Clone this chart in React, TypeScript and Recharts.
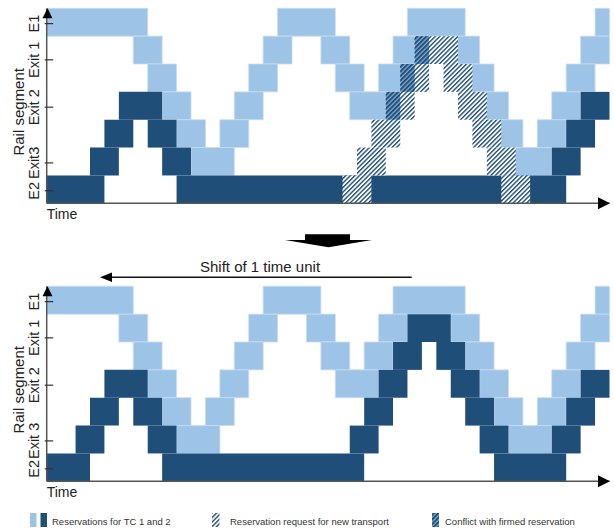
import React from 'react';
import { ComposedChart, XAxis, YAxis, ReferenceArea, ReferenceDot, Label } from 'recharts';

// grid: time units along x, rail segments (rows, 0 = top) along y
const TIME_UNITS = 39;
const ROWS = 7;

// [row, fromTime, toTime]
type Block = [number, number, number];

const rowTicks = [0.55, 1.85, 3.55, 5.55, 6.55];
const topRowLabels = ['E1', 'Exit 1', 'Exit 2', 'Exit3', 'E2'];
const bottomRowLabels = ['E1', 'Exit 1', 'Exit 2', 'Exit 3', 'E2'];

// TC 1 (light) before the shift
const topLight: Block[] = [
  [0, 0, 7], [0, 16, 20], [0, 25, 29], [0, 38, 39],
  [1, 6, 8], [1, 15, 17], [1, 19, 21], [1, 24, 26], [1, 28, 30], [1, 37, 39],
  [2, 7, 9], [2, 14, 16], [2, 20, 22], [2, 23, 25], [2, 29, 31], [2, 36, 38],
  [3, 8, 10], [3, 13, 15], [3, 21, 24], [3, 30, 32], [3, 35, 37],
  [4, 9, 11], [4, 12, 14], [4, 31, 33], [4, 34, 36],
  [5, 10, 13], [5, 32, 35],
];

// TC 2 (dark) before the shift
const topDark: Block[] = [
  [6, 0, 4], [6, 9, 36],
  [5, 3, 5], [5, 8, 10], [5, 35, 37],
  [4, 4, 6], [4, 7, 9], [4, 36, 38],
  [3, 5, 8], [3, 37, 39],
];

// new transport request
const topRequest: Block[] = [
  [6, 20.5, 22.5], [6, 31.5, 33.5],
  [5, 21.5, 23.5], [5, 30.5, 32.5],
  [4, 22.5, 24.5], [4, 29.5, 31.5],
  [3, 23.5, 25.5], [3, 28.5, 30.5],
  [2, 24.5, 26.5], [2, 27.5, 29.5],
  [1, 25.5, 28.5],
];

const topConflict: Block[] = [
  [1, 25.5, 26.5],
  [2, 24.5, 25.5],
  [3, 23.5, 24.5],
];

// after shifting by 1 time unit
const bottomLight: Block[] = [
  [0, 0, 6], [0, 15, 19], [0, 24, 29], [0, 38, 39],
  [1, 5, 7], [1, 14, 16], [1, 18, 20], [1, 23, 25], [1, 28, 30], [1, 37, 39],
  [2, 6, 8], [2, 13, 15], [2, 19, 21], [2, 22, 24], [2, 29, 31], [2, 36, 38],
  [3, 7, 9], [3, 12, 14], [3, 20, 23], [3, 30, 32], [3, 35, 37],
  [4, 8, 10], [4, 11, 13], [4, 31, 33], [4, 34, 36],
  [5, 9, 12], [5, 32, 35],
];

const bottomDark: Block[] = [
  [6, 0, 3], [6, 8, 22], [6, 31, 36],
  [5, 2, 4], [5, 7, 9], [5, 21, 23], [5, 30, 32], [5, 35, 37],
  [4, 3, 5], [4, 6, 8], [4, 22, 24], [4, 29, 31], [4, 36, 38],
  [3, 4, 7], [3, 23, 25], [3, 28, 30], [3, 37, 39],
  [2, 24, 26], [2, 27, 29],
  [1, 25, 28],
];

const legendLabels = [
  'Reservations for TC 1 and 2',
  'Reservation request for new transport',
  'Conflict with firmed reservation',
];

const LIGHT = '#9DC3E6';
const DARK = '#1F4E79';
const AXIS = '#555';
const TEXT = '#222';
const FONT = '"Liberation Sans", Arial, sans-serif';

const RowTick = (props: any) => {
  const { x, y, payload, labels } = props;
  const i = rowTicks.indexOf(payload.value);
  const lx = x - 13;
  return (
    <g>
      <line x1={x - 2} x2={x + 6.5} y1={y} y2={y} stroke="#333" strokeWidth={1.2} />
      <text
        x={lx}
        y={y}
        transform={`rotate(-90 ${lx} ${y})`}
        textAnchor="middle"
        dominantBaseline="central"
        fontSize={14.5}
        fontFamily={FONT}
        fill={TEXT}
      >
        {labels[i]}
      </text>
    </g>
  );
};

const RailLabel = (props: any) => {
  const vb = props.viewBox;
  const cx = vb.x + 19;
  const cy = vb.y + vb.height / 2 + 6;
  return (
    <text
      x={cx}
      y={cy}
      transform={`rotate(-90 ${cx} ${cy})`}
      textAnchor="middle"
      dominantBaseline="central"
      fontSize={15}
      fontFamily={FONT}
      fill={TEXT}
    >
      Rail segment
    </text>
  );
};

const TimeLabel = (props: any) => {
  const vb = props.viewBox;
  return (
    <text x={vb.x} y={vb.y + 16} fontSize={14} fontFamily={FONT} fill={TEXT}>
      Time
    </text>
  );
};

const UpArrow = (p: any) => (
  <path d={`M${p.cx + 0.8} ${p.cy} L${p.cx + 5.8} ${p.cy + 10} L${p.cx - 4.2} ${p.cy + 10} Z`} fill="#000" />
);

const RightArrow = (p: any) => (
  <path d={`M${p.cx + 0.5} ${p.cy} L${p.cx - 11.5} ${p.cy - 6} L${p.cx - 11.5} ${p.cy + 6} Z`} fill="#000" />
);

interface PanelProps {
  top: number;
  light: Block[];
  dark: Block[];
  request: Block[];
  conflict: Block[];
  labels: string[];
}

const Panel = ({ top, light, dark, request, conflict, labels }: PanelProps) => (
  <div style={{ position: 'absolute', left: 0, top, width: 614, height: 230 }}>
    <ComposedChart width={614} height={230} data={[]} margin={{ top: 8.3, right: 4.5, bottom: 0, left: 0 }}>
      <XAxis
        type="number"
        dataKey="t"
        domain={[0, TIME_UNITS]}
        allowDataOverflow
        tick={false}
        tickLine={false}
        height={26.7}
        axisLine={{ stroke: AXIS, strokeWidth: 1.5 }}
      >
        <Label content={TimeLabel} />
      </XAxis>
      <YAxis
        type="number"
        domain={[0, ROWS]}
        reversed
        allowDataOverflow
        ticks={rowTicks}
        interval={0}
        tickSize={0}
        tickMargin={0}
        tickLine={false}
        width={46.7}
        axisLine={{ stroke: AXIS, strokeWidth: 1.5 }}
        tick={(p: any) => <RowTick {...p} labels={labels} />}
      >
        <Label content={RailLabel} />
      </YAxis>
      {light.map(([r, a, b], i) => (
        <ReferenceArea
          key={'l' + i}
          x1={a}
          x2={b}
          y1={r}
          y2={r + 1}
          fill={LIGHT}
          fillOpacity={1}
          stroke="#c8dcf0"
          strokeWidth={0.8}
          ifOverflow="visible"
        />
      ))}
      {dark.map(([r, a, b], i) => (
        <ReferenceArea key={'d' + i} x1={a} x2={b} y1={r} y2={r + 1} fill={DARK} fillOpacity={1} stroke="none" ifOverflow="visible" />
      ))}
      {request.map(([r, a, b], i) => (
        <ReferenceArea
          key={'q' + i}
          x1={a}
          x2={b}
          y1={r}
          y2={r + 1}
          fill="url(#reqHatch)"
          fillOpacity={1}
          stroke="none"
          ifOverflow="visible"
        />
      ))}
      {conflict.map(([r, a, b], i) => (
        <ReferenceArea
          key={'c' + i}
          x1={a}
          x2={b}
          y1={r}
          y2={r + 1}
          fill="url(#conflictHatch)"
          fillOpacity={1}
          stroke="none"
          ifOverflow="visible"
        />
      ))}
      <ReferenceDot x={0} y={0} r={1} shape={UpArrow} ifOverflow="visible" />
      <ReferenceDot x={TIME_UNITS} y={ROWS} r={1} shape={RightArrow} ifOverflow="visible" />
    </ComposedChart>
  </div>
);

export default function App() {
  return (
    <div style={{ position: 'absolute', left: 0, top: 0, width: 614, height: 531, background: '#fff', overflow: 'hidden' }}>
      <svg width="0" height="0" style={{ position: 'absolute' }}>
        <defs>
          <pattern id="reqHatch" patternUnits="userSpaceOnUse" width="3.2" height="3.2" patternTransform="rotate(45)">
            <rect width="3.2" height="3.2" fill="#fff" />
            <rect width="1.4" height="3.2" fill={DARK} />
          </pattern>
          <pattern id="conflictHatch" patternUnits="userSpaceOnUse" width="3.2" height="3.2" patternTransform="rotate(45)">
            <rect width="3.2" height="3.2" fill="#7fa9d0" />
            <rect width="1.9" height="3.2" fill={DARK} />
          </pattern>
        </defs>
      </svg>

      <Panel top={0} light={topLight} dark={topDark} request={topRequest} conflict={topConflict} labels={topRowLabels} />
      <Panel top={278.4} light={bottomLight} dark={bottomDark} request={[]} conflict={[]} labels={bottomRowLabels} />

      <svg width={614} height={531} style={{ position: 'absolute', left: 0, top: 0, pointerEvents: 'none' }}>
        <path d="M305 234.3 H350 V240 H372 L328.5 247.3 L285 240 H305 Z" fill="#000" />
        <text x={200} y={272} fontSize={15} fontFamily={FONT} fill={TEXT}>
          Shift of 1 time unit
        </text>
        <line x1={110} x2={411.7} y1={277.3} y2={277.3} stroke="#111" strokeWidth={1.6} />
        <path d="M100 277.3 L112 272.6 L112 282 Z" fill="#000" />

        <rect x={30} y={513} width={6.5} height={14} fill={LIGHT} />
        <rect x={40.5} y={513} width={6.5} height={14} fill={DARK} />
        <text x={52} y={521.5} fontSize={9.5} fontFamily={FONT} fill="#333" dominantBaseline="central">
          {legendLabels[0]}
        </text>
        <rect x={212} y={513} width={7.5} height={14} fill="url(#reqHatch)" />
        <text x={230} y={521.5} fontSize={9.5} fontFamily={FONT} fill="#333" dominantBaseline="central">
          {legendLabels[1]}
        </text>
        <rect x={432} y={513} width={7} height={14} fill="url(#conflictHatch)" />
        <text x={445} y={521.5} fontSize={9.5} fontFamily={FONT} fill="#333" dominantBaseline="central">
          {legendLabels[2]}
        </text>
      </svg>
    </div>
  );
}
